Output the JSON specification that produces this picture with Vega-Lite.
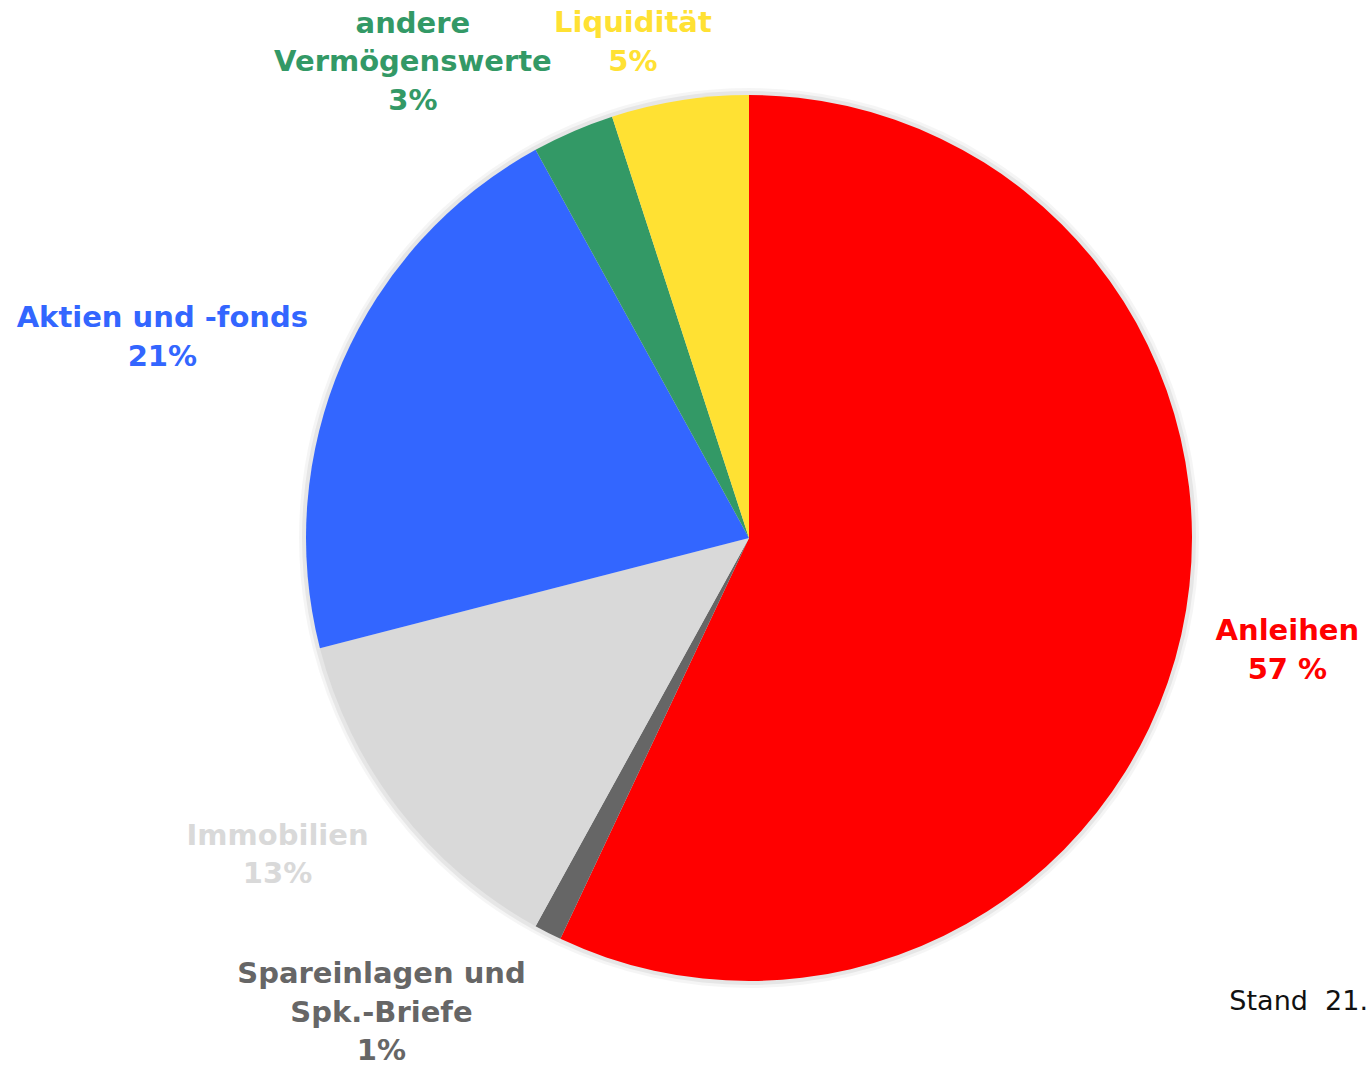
{
  "$schema": "https://vega.github.io/schema/vega-lite/v6.json",
  "autosize": {"type": "none"},
  "width": 1238,
  "height": 1066,
  "padding": {"left": 130, "top": 5, "right": 0, "bottom": 0},
  "background": "white",
  "view": {"stroke": null},
  "title": {
    "text": "Stand\u00a0\u00a021.",
    "orient": "bottom",
    "anchor": "end",
    "frame": "group",
    "offset": -97,
    "baseline": "alphabetic",
    "font": "DejaVu Sans",
    "fontWeight": "normal",
    "fontSize": 27,
    "color": "#111111"
  },
  "data": {
    "values": [
      {"category": "Anleihen", "value": 57, "label": "Anleihen\n57 %"},
      {"category": "Spareinlagen", "value": 1, "label": "Spareinlagen und\nSpk.-Briefe\n1%"},
      {"category": "Immobilien", "value": 13, "label": "Immobilien\n13%"},
      {"category": "Aktien", "value": 21, "label": "Aktien und -fonds\n21%"},
      {"category": "andere", "value": 3, "label": "andere\nVermögenswerte\n3%"},
      {"category": "Liquidität", "value": 5, "label": "Liquidität\n5%"}
    ]
  },
  "transform": [{"window": [{"op": "row_number", "as": "idx"}]}],
  "encoding": {
    "theta": {"field": "value", "type": "quantitative", "stack": true},
    "order": {"field": "idx", "type": "quantitative"},
    "color": {
      "field": "category",
      "type": "nominal",
      "scale": {
        "domain": ["Anleihen", "Spareinlagen", "Immobilien", "Aktien", "andere", "Liquidität"],
        "range": ["#FF0000", "#666666", "#D9D9D9", "#3366FF", "#339966", "#FFE133"]
      },
      "legend": null
    }
  },
  "layer": [
    {
      "mark": {"type": "arc", "radius": 450, "fill": "#000000", "opacity": 0.04, "strokeWidth": 0},
      "encoding": {"color": {"value": "#000000"}}
    },
    {
      "mark": {"type": "arc", "radius": 447, "fill": "#000000", "opacity": 0.06, "strokeWidth": 0},
      "encoding": {"color": {"value": "#000000"}}
    },
    {
      "mark": {"type": "arc", "radius": 443, "strokeWidth": 0}
    },
    {
      "mark": {"type": "text", "radius": 550, "thetaOffset": -0.014, "dy": -19, "font": "DejaVu Sans", "fontWeight": "bold", "fontSize": 29, "lineBreak": "\n", "lineHeight": 38.5, "align": "center", "baseline": "middle"},
      "encoding": {"text": {"condition": {"test": "datum.category === 'Anleihen'", "field": "label"}, "value": ""}}
    },
    {
      "mark": {"type": "text", "radius": 600, "thetaOffset": 0.188, "dy": -38, "font": "DejaVu Sans", "fontWeight": "bold", "fontSize": 29, "lineBreak": "\n", "lineHeight": 38.5, "align": "center", "baseline": "middle"},
      "encoding": {"text": {"condition": {"test": "datum.category === 'Spareinlagen'", "field": "label"}, "value": ""}}
    },
    {
      "mark": {"type": "text", "radius": 568, "thetaOffset": 0.068, "dy": -19, "font": "DejaVu Sans", "fontWeight": "bold", "fontSize": 29, "lineBreak": "\n", "lineHeight": 38.5, "align": "center", "baseline": "middle"},
      "encoding": {"text": {"condition": {"test": "datum.category === 'Immobilien'", "field": "label"}, "value": ""}}
    },
    {
      "mark": {"type": "text", "radius": 620, "thetaOffset": -0.079, "dy": -19, "font": "DejaVu Sans", "fontWeight": "bold", "fontSize": 29, "lineBreak": "\n", "lineHeight": 38.5, "align": "center", "baseline": "middle"},
      "encoding": {"text": {"condition": {"test": "datum.category === 'Aktien'", "field": "label"}, "value": ""}}
    },
    {
      "mark": {"type": "text", "radius": 583, "thetaOffset": -0.206, "dy": -38, "font": "DejaVu Sans", "fontWeight": "bold", "fontSize": 29, "lineBreak": "\n", "lineHeight": 38.5, "align": "center", "baseline": "middle"},
      "encoding": {"text": {"condition": {"test": "datum.category === 'andere'", "field": "label"}, "value": ""}}
    },
    {
      "mark": {"type": "text", "radius": 509, "thetaOffset": -0.073, "dy": -19, "font": "DejaVu Sans", "fontWeight": "bold", "fontSize": 29, "lineBreak": "\n", "lineHeight": 38.5, "align": "center", "baseline": "middle"},
      "encoding": {"text": {"condition": {"test": "datum.category === 'Liquidität'", "field": "label"}, "value": ""}}
    }
  ]
}
